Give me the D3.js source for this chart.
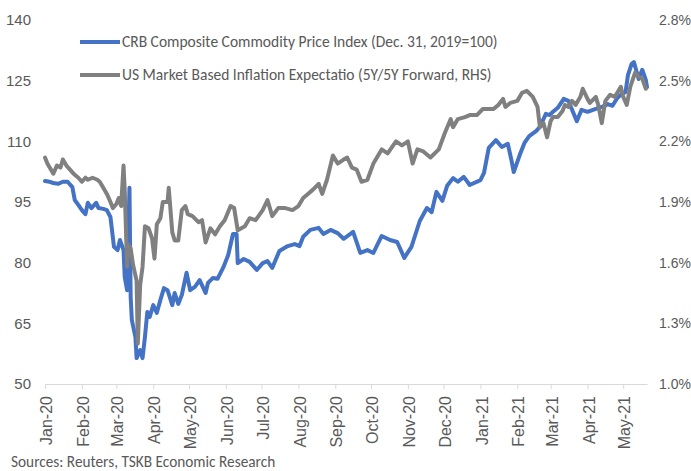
<!DOCTYPE html>
<html>
<head>
<meta charset="utf-8">
<script src="https://d3js.org/d3.v7.min.js"></script>
<style>
  body { margin: 0; background: #fff; }
  svg { display: block; font-family: Carlito, Lato, sans-serif; }
  .tick text { fill: #595959; font-size: 15px; }
  .x-axis .tick text { font-size: 16px; }
  .right-axis .tick text { font-size: 14px; }
  .legend text { fill: #595959; font-size: 15.5px; }
  .source { fill: #595959; font-size: 15.3px; }
</style>
</head>
<body>
<svg id="chart" width="691" height="471"></svg>
<script>
// CRB Composite Commodity Price Index (Dec. 31, 2019 = 100), left axis
const crbDates = [
  "2020-01-01","2020-01-05","2020-01-08","2020-01-12","2020-01-16","2020-01-20","2020-01-24","2020-01-26","2020-01-29",
  "2020-02-01","2020-02-04","2020-02-06","2020-02-09","2020-02-13","2020-02-15","2020-02-19","2020-02-22","2020-02-25","2020-02-28",
  "2020-03-02","2020-03-04","2020-03-07","2020-03-08","2020-03-10","2020-03-12","2020-03-13","2020-03-14","2020-03-17","2020-03-18",
  "2020-03-21","2020-03-23","2020-03-25","2020-03-27","2020-03-29",
  "2020-04-01","2020-04-04","2020-04-07","2020-04-10","2020-04-13","2020-04-17","2020-04-19","2020-04-22","2020-04-25","2020-04-29",
  "2020-05-02","2020-05-06","2020-05-10","2020-05-15","2020-05-17","2020-05-21","2020-05-25","2020-05-30",
  "2020-06-03","2020-06-07","2020-06-10","2020-06-11","2020-06-16","2020-06-21","2020-06-27",
  "2020-07-02","2020-07-06","2020-07-10","2020-07-16","2020-07-23","2020-07-29",
  "2020-08-02","2020-08-05","2020-08-11","2020-08-18","2020-08-22","2020-08-28",
  "2020-09-03","2020-09-08","2020-09-16","2020-09-22","2020-09-28",
  "2020-10-03","2020-10-10","2020-10-17","2020-10-23","2020-10-29",
  "2020-11-04","2020-11-11","2020-11-17","2020-11-21","2020-11-25","2020-11-30",
  "2020-12-04","2020-12-09","2020-12-13","2020-12-18","2020-12-23",
  "2021-01-01","2021-01-04","2021-01-08","2021-01-14","2021-01-19","2021-01-24","2021-01-27","2021-01-29",
  "2021-02-03","2021-02-07","2021-02-11","2021-02-17","2021-02-20","2021-02-25","2021-02-28",
  "2021-03-03","2021-03-07","2021-03-12","2021-03-16","2021-03-19","2021-03-23","2021-03-27",
  "2021-04-01","2021-04-08","2021-04-13","2021-04-18","2021-04-22","2021-04-26","2021-04-29",
  "2021-05-03","2021-05-05","2021-05-08","2021-05-10","2021-05-14","2021-05-17","2021-05-20","2021-05-21"
];
const crbValues = [
  100.2,100.0,99.7,99.5,100.0,100.0,98.7,95.5,94.3,
  93.0,92.0,94.8,93.5,94.8,93.5,93.3,93.0,91.3,83.9,
  83.1,85.6,83.1,76.5,73.2,98.5,71.5,65.8,61.6,56.4,
  58.4,56.4,61.6,67.8,66.6,
  69.5,67.6,70.8,73.7,73.2,69.5,72.5,69.8,72.0,77.5,
  73.2,74.0,75.7,72.5,75.0,76.2,76.0,78.9,
  81.9,87.1,87.1,79.9,80.9,80.2,78.2,
  79.9,80.4,78.7,82.9,84.1,84.6,
  84.1,86.4,88.1,88.6,87.1,88.1,
  87.3,85.9,87.6,82.4,83.1,
  82.4,86.6,85.6,85.1,81.2,
  83.9,90.3,93.5,92.5,97.5,95.3,
  99.0,100.9,100.0,101.2,99.2,
  100.4,102.2,108.4,110.3,108.6,109.4,105.4,102.4,
  106.6,109.6,111.3,112.6,113.6,116.8,116.5,
  117.3,118.3,120.5,120.0,117.8,115.0,117.8,
  117.3,118.0,118.5,119.2,118.8,120.7,121.5,
  122.2,126.4,129.1,129.6,125.4,127.7,125.2,123.4
];

// US market based inflation expectation, 5Y/5Y forward (%), right axis
const bevDates = [
  "2020-01-01","2020-01-03","2020-01-08","2020-01-11","2020-01-14","2020-01-16","2020-01-19","2020-01-22","2020-01-25","2020-01-29",
  "2020-02-01","2020-02-04","2020-02-06","2020-02-10","2020-02-14","2020-02-16","2020-02-19","2020-02-22","2020-02-25","2020-02-27",
  "2020-03-01","2020-03-03","2020-03-05","2020-03-07","2020-03-08","2020-03-10","2020-03-11","2020-03-13","2020-03-15","2020-03-18",
  "2020-03-19","2020-03-21","2020-03-23","2020-03-25","2020-03-28","2020-03-31",
  "2020-04-02","2020-04-04","2020-04-07","2020-04-09","2020-04-13","2020-04-14","2020-04-17","2020-04-19","2020-04-22","2020-04-25",
  "2020-04-28","2020-04-30",
  "2020-05-04","2020-05-09","2020-05-12","2020-05-15","2020-05-19","2020-05-23","2020-05-27","2020-05-31",
  "2020-06-05","2020-06-08","2020-06-11","2020-06-17","2020-06-21","2020-06-26",
  "2020-07-02","2020-07-06","2020-07-10","2020-07-15","2020-07-21","2020-07-27",
  "2020-08-01","2020-08-05","2020-08-09","2020-08-13","2020-08-18","2020-08-21","2020-08-25","2020-08-30",
  "2020-09-03","2020-09-08","2020-09-11","2020-09-15","2020-09-19","2020-09-23","2020-09-28",
  "2020-10-03","2020-10-10","2020-10-15","2020-10-22","2020-10-27",
  "2020-11-01","2020-11-05","2020-11-09","2020-11-14","2020-11-20","2020-11-27",
  "2020-12-02","2020-12-07","2020-12-09","2020-12-13","2020-12-19","2020-12-23","2020-12-29",
  "2021-01-03","2021-01-08","2021-01-12","2021-01-16","2021-01-20","2021-01-22","2021-01-26",
  "2021-02-01","2021-02-05","2021-02-09","2021-02-14","2021-02-18","2021-02-20","2021-02-23","2021-02-26",
  "2021-03-01","2021-03-03","2021-03-07","2021-03-11","2021-03-13","2021-03-16","2021-03-19","2021-03-22","2021-03-26","2021-03-28",
  "2021-04-01","2021-04-03","2021-04-08","2021-04-10","2021-04-13","2021-04-16","2021-04-20","2021-04-24","2021-04-29",
  "2021-05-01","2021-05-04","2021-05-07","2021-05-11","2021-05-14","2021-05-17","2021-05-20"
];
const bevValues = [
  2.12,2.09,2.04,2.08,2.07,2.11,2.08,2.06,2.04,2.02,
  2.00,2.02,2.01,2.02,2.01,2.00,1.97,1.94,1.90,1.87,
  1.89,1.92,1.88,2.08,1.96,1.58,1.69,1.67,1.59,1.51,
  1.20,1.49,1.58,1.78,1.77,1.72,
  1.62,1.79,1.82,1.90,1.90,1.97,1.75,1.71,1.71,1.86,
  1.88,1.84,
  1.83,1.80,1.81,1.70,1.77,1.74,1.78,1.81,
  1.88,1.87,1.76,1.78,1.82,1.81,
  1.86,1.91,1.83,1.87,1.87,1.86,
  1.88,1.92,1.94,1.96,1.99,1.94,2.01,2.13,
  2.09,2.11,2.12,2.07,2.06,2.00,2.01,
  2.09,2.16,2.14,2.20,2.18,
  2.20,2.09,2.16,2.15,2.12,2.16,
  2.24,2.31,2.27,2.31,2.32,2.33,2.33,
  2.36,2.36,2.36,2.38,2.41,2.37,2.39,
  2.40,2.44,2.45,2.42,2.37,2.27,2.29,2.22,
  2.30,2.32,2.32,2.35,2.38,2.37,2.40,2.38,2.42,2.46,
  2.41,2.39,2.42,2.38,2.29,2.40,2.43,2.42,2.47,
  2.42,2.38,2.47,2.54,2.52,2.51,2.46
];

const leftTicks = [50, 65, 80, 95, 110, 125, 140];
const rightTicks = [1.0, 1.3, 1.6, 1.9, 2.2, 2.5, 2.8];
const xStart = "2020-01-01";
const xEnd = "2021-05-21";

const seriesNames = [
  "CRB Composite Commodity Price Index (Dec. 31, 2019=100)",
  "US Market Based Inflation Expectatio (5Y/5Y Forward, RHS)"
];
const sourceText = "Sources: Reuters, TSKB Economic Research";

const parse = d3.timeParse("%Y-%m-%d");
const crb = crbDates.map((d, i) => ({ date: parse(d), value: crbValues[i] }));
const bev = bevDates.map((d, i) => ({ date: parse(d), value: bevValues[i] }));

const svg = d3.select("#chart");
const plot = { left: 45, right: 647, top: 20, bottom: 384 };

const x = d3.scaleTime()
  .domain([parse(xStart), parse(xEnd)])
  .range([plot.left, plot.right]);
const yLeft = d3.scaleLinear().domain([50, 140]).range([plot.bottom, plot.top]);
const yRight = d3.scaleLinear().domain([1.0, 2.8]).range([plot.bottom, plot.top]);

// x axis
const xAxis = svg.append("g")
  .attr("class", "x-axis")
  .attr("transform", `translate(0,${plot.bottom})`)
  .call(d3.axisBottom(x)
    .ticks(d3.timeMonth.every(1))
    .tickFormat(d3.timeFormat("%b-%y"))
    .tickSize(5)
    .tickSizeOuter(0));
xAxis.select(".domain").attr("stroke", "#d9d9d9");
xAxis.selectAll(".tick line").attr("stroke", "#d9d9d9");
xAxis.selectAll(".tick text")
  .attr("transform", "rotate(-90)")
  .attr("x", -12)
  .attr("y", 1)
  .attr("dy", "0.35em")
  .attr("text-anchor", "end");

// left axis
const leftAxis = svg.append("g")
  .attr("transform", `translate(${plot.left},0)`)
  .call(d3.axisLeft(yLeft).tickValues(leftTicks).tickSize(0).tickPadding(14));
leftAxis.select(".domain").remove();

// right axis
const rightAxis = svg.append("g")
  .attr("class", "right-axis")
  .attr("transform", `translate(${plot.right},0)`)
  .call(d3.axisRight(yRight).tickValues(rightTicks).tickSize(0).tickPadding(12)
    .tickFormat(d => d.toFixed(1) + "%"));
rightAxis.select(".domain").remove();

// lines
const crbLine = d3.line().x(d => x(d.date)).y(d => yLeft(d.value));
const bevLine = d3.line().x(d => x(d.date)).y(d => yRight(d.value));

svg.append("path")
  .datum(crb)
  .attr("fill", "none")
  .attr("stroke", "#4472c4")
  .attr("stroke-width", 4)
  .attr("stroke-linejoin", "round")
  .attr("stroke-linecap", "round")
  .attr("d", crbLine);

svg.append("path")
  .datum(bev)
  .attr("fill", "none")
  .attr("stroke", "#808080")
  .attr("stroke-width", 4)
  .attr("stroke-linejoin", "round")
  .attr("stroke-linecap", "round")
  .attr("d", bevLine);

// legend
const legendColors = ["#4472c4", "#808080"];
const legend = svg.append("g").attr("class", "legend");
seriesNames.forEach((name, i) => {
  const ly = 42 + i * 33;
  legend.append("line")
    .attr("x1", 80).attr("x2", 120)
    .attr("y1", ly).attr("y2", ly)
    .attr("stroke", legendColors[i])
    .attr("stroke-width", 4);
  legend.append("text")
    .attr("x", 122).attr("y", ly)
    .attr("dy", "0.35em")
    .text(name);
});

// source note
svg.append("text")
  .attr("class", "source")
  .attr("x", 11)
  .attr("y", 467)
  .text(sourceText);
</script>
</body>
</html>
